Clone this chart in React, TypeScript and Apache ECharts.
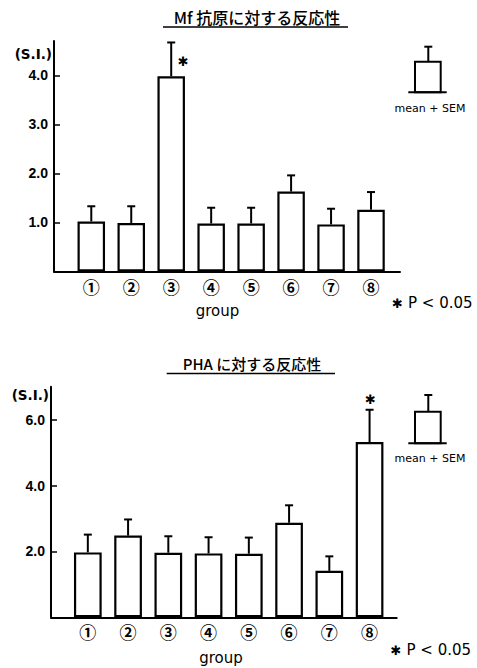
import React, { useEffect, useRef } from 'react';
import * as echarts from 'echarts';

// ---- data ----
const groups = ['①', '②', '③', '④', '⑤', '⑥', '⑦', '⑧'];

const mfTitle = 'Mf 抗原に対する反応性';
const mfMean = [1.02, 0.99, 3.98, 0.98, 0.98, 1.63, 0.96, 1.26];
const mfSem = [0.31, 0.34, 0.69, 0.32, 0.32, 0.33, 0.32, 0.36];
const mfSig = [0, 0, 1, 0, 0, 0, 0, 0];
const mfTicks = [1, 2, 3, 4];
const mfMax = 4.7;

const phaTitle = 'PHA に対する反応性';
const phaMean = [1.97, 2.48, 1.96, 1.94, 1.93, 2.87, 1.41, 5.32];
const phaSem = [0.54, 0.49, 0.5, 0.49, 0.49, 0.53, 0.44, 0.98];
const phaSig = [0, 0, 0, 0, 0, 0, 0, 1];
const phaTicks = [2, 4, 6];
const phaMax = 7;

const yName = '(S.I.)';
const xName = 'group';
const star = '✱';
const sigNote = 'P < 0.05';
const legendText = 'mean + SEM';

const LAT = '"Liberation Sans", Arial, sans-serif';
const DJV = '"DejaVu Sans", sans-serif';
const CJK = '"Noto Sans CJK JP", sans-serif';

type Panel = {
  gridA: any;
  gridB: any;
  max: number;
  ticks: number[];
  mean: number[];
  sem: number[];
  sig: number[];
  barWidth: number;
  starMode: 'side' | 'top';
};

function buildOption(panels: Panel[]) {
  const grid: any[] = [];
  const xAxis: any[] = [];
  const yAxis: any[] = [];
  const series: any[] = [];
  panels.forEach((p, k) => {
    const a = k * 2;
    const b = k * 2 + 1;
    grid.push({ ...p.gridA, outerBoundsMode: 'none', containLabel: false });
    grid.push({ ...p.gridB, outerBoundsMode: 'none', containLabel: false });
    xAxis.push({
      type: 'category',
      gridIndex: a,
      data: groups,
      axisLine: { show: false },
      axisTick: { show: false },
      axisLabel: { interval: 0, margin: 6, fontSize: 17, fontFamily: CJK, fontWeight: 'bold', color: '#000' },
      splitLine: { show: false },
    });
    xAxis.push({
      type: 'value',
      gridIndex: b,
      min: 0,
      max: 1,
      axisLine: { show: true, lineStyle: { color: '#000', width: 2 } },
      axisTick: { show: false },
      axisLabel: { show: false },
      splitLine: { show: false },
    });
    yAxis.push({ type: 'value', gridIndex: a, min: 0, max: p.max, show: false, splitLine: { show: false } });
    yAxis.push({
      type: 'value',
      gridIndex: b,
      min: 0,
      max: p.max,
      name: yName,
      nameLocation: 'end',
      nameGap: k === 0 ? -13 : -8,
      nameTextStyle: {
        align: 'right',
        verticalAlign: 'middle',
        fontSize: 13.5,
        fontFamily: DJV,
        fontWeight: 'bold',
        color: '#000',
        padding: [0, 2, 0, 0],
      },
      axisLine: { show: true, lineStyle: { color: '#000', width: 2 } },
      axisTick: { show: true, inside: true, length: 6, customValues: p.ticks, lineStyle: { color: '#000', width: 1.5 } },
      axisLabel: {
        customValues: p.ticks,
        formatter: (v: number) => v.toFixed(1),
        margin: 6,
        fontSize: 14,
        fontWeight: 'bold',
        fontFamily: LAT,
        color: '#000',
      },
      splitLine: { show: false },
    });
    series.push({
      type: 'bar',
      xAxisIndex: a,
      yAxisIndex: a,
      barWidth: p.barWidth,
      data: p.mean,
      itemStyle: { color: '#fff', borderColor: '#000', borderWidth: 2.2 },
      z: 2,
    });
    series.push({
      type: 'custom',
      xAxisIndex: a,
      yAxisIndex: a,
      z: 3,
      data: p.mean.map((m, i) => [i, m, p.sem[i], p.sig[i]]),
      renderItem: (params: any, api: any) => {
        const i = api.value(0);
        const m = api.value(1);
        const s = api.value(2);
        const sg = api.value(3);
        const p0 = api.coord([i, m]);
        const p1 = api.coord([i, m + s]);
        const ls = { stroke: '#000', lineWidth: 2 };
        const children: any[] = [
          { type: 'line', shape: { x1: p0[0], y1: p0[1], x2: p1[0], y2: p1[1] }, style: ls },
          { type: 'line', shape: { x1: p1[0] - 4, y1: p1[1], x2: p1[0] + 4, y2: p1[1] }, style: ls },
        ];
        if (sg) {
          const sx = p.starMode === 'side' ? p1[0] + 12 : p1[0] + 1;
          const sy = p.starMode === 'side' ? p1[1] + 19 : p1[1] - 10;
          children.push({
            type: 'text',
            x: sx,
            y: sy,
            style: {
              text: star,
              fontSize: 13,
              fontFamily: DJV,
              fill: '#000',
              align: 'center',
              verticalAlign: 'middle',
              textAlign: 'center',
              textVerticalAlign: 'middle',
            },
          });
        }
        return { type: 'group', children };
      },
    });
  });
  return { grid, xAxis, yAxis, series };
}

function txt(text: string, x: number, y: number, size: number, family: string, align: string, weight = 'normal') {
  return {
    type: 'text',
    x,
    y,
    style: {
      text,
      fill: '#000',
      fontSize: size,
      fontFamily: family,
      fontWeight: weight,
      align,
      verticalAlign: 'middle',
      textAlign: align,
      textVerticalAlign: 'middle',
    },
  };
}

function ln(x1: number, y1: number, x2: number, y2: number, w = 2) {
  return { type: 'line', shape: { x1, y1, x2, y2 }, style: { stroke: '#000', lineWidth: w } };
}

function legendIcon(top: number, bottom: number, errTop: number, textY: number) {
  return [
    { type: 'rect', shape: { x: 415, y: top, width: 25.7, height: bottom - top }, style: { fill: '#fff', stroke: '#000', lineWidth: 2 } },
    ln(408.3, bottom, 446.7, bottom),
    ln(428.3, top, 428.3, errTop),
    ln(424.3, errTop, 432.3, errTop),
    txt(legendText, 430, textY, 11, DJV, 'center'),
  ];
}

export default function App() {
  const ref = useRef<HTMLDivElement>(null);
  useEffect(() => {
    if (!ref.current) return;
    const chart = echarts.init(ref.current, undefined, { renderer: 'svg' });
    const panels: Panel[] = [
      {
        gridA: { left: 71.3, top: 41, width: 319.7, height: 230.5 },
        gridB: { left: 54, top: 41, width: 346, height: 230.5 },
        max: mfMax,
        ticks: mfTicks,
        mean: mfMean,
        sem: mfSem,
        sig: mfSig,
        barWidth: 27.5,
        starMode: 'side',
      },
      {
        gridA: { left: 67.7, top: 386.7, width: 322, height: 230.6 },
        gridB: { left: 51, top: 386.7, width: 345.7, height: 230.6 },
        max: phaMax,
        ticks: phaTicks,
        mean: phaMean,
        sem: phaSem,
        sig: phaSig,
        barWidth: 27.7,
        starMode: 'top',
      },
    ];
    const base = buildOption(panels);
    const graphic: any[] = [
      txt(mfTitle, 257, 16.5, 16, CJK, 'center', '500'),
      ln(163, 27, 348, 27, 1.5),
      txt(phaTitle, 252, 363.3, 15, CJK, 'center', '500'),
      ln(166.7, 373.5, 335, 373.5, 1.5),
      txt(xName, 217.5, 310.7, 15, DJV, 'center'),
      txt(xName, 221, 657.5, 15, DJV, 'center'),
      txt(star, 397.5, 303.3, 13, DJV, 'center'),
      txt(sigNote, 408, 303.3, 15, DJV, 'left'),
      txt(star, 396, 650, 13, DJV, 'center'),
      txt(sigNote, 406.5, 650, 15, DJV, 'left'),
      ...legendIcon(61.7, 92.3, 46.7, 108),
      ...legendIcon(411.7, 443.3, 395, 458.3),
    ];
    chart.setOption({
      animation: false,
      backgroundColor: '#fff',
      ...base,
      graphic,
    });
    return () => chart.dispose();
  }, []);
  return (
    <div
      ref={ref}
      style={{ position: 'fixed', left: 0, top: 0, width: 477, height: 668, background: '#fff' }}
    />
  );
}
